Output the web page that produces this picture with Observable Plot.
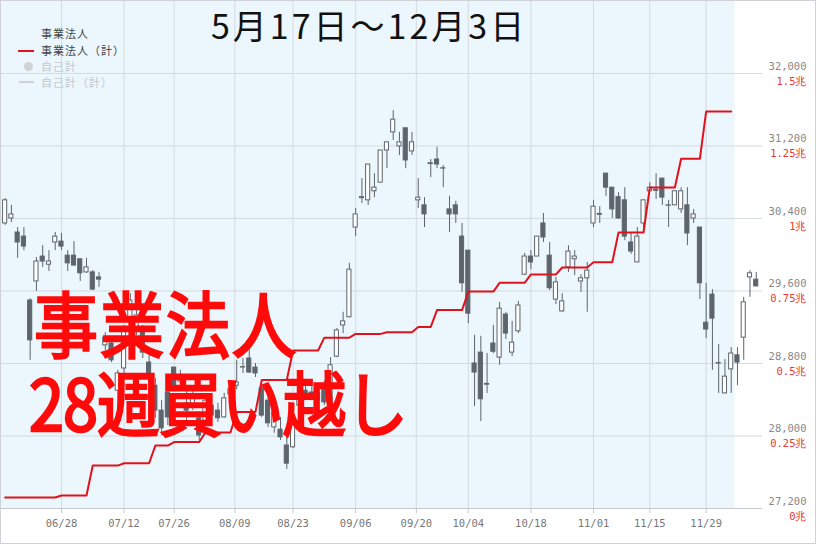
<!DOCTYPE html>
<html>
<head>
<meta charset="utf-8">
<script src="https://cdn.jsdelivr.net/npm/d3@7"></script>
<script src="https://cdn.jsdelivr.net/npm/@observablehq/plot@0.6"></script>
<style>
  html, body { margin: 0; padding: 0; background: #fff; }
  #wrap { position: relative; width: 816px; height: 544px; overflow: hidden; background: #fff; }
  #wrap svg { position: absolute; left: 0; top: 0; display: block; }
  .ov { position: absolute; white-space: nowrap; line-height: 1; }
  #title { left: 211px; top: 8px; font-family: "Noto Sans CJK JP"; font-size: 34px; color: #111; letter-spacing: 3px; }
  .leg { position: absolute; left: 41px; font-family: "Noto Sans CJK JP"; font-size: 11px; letter-spacing: 1px; line-height: 16px; color: #444; white-space: nowrap; }
  #big { position: absolute; left: 29px; top: 280px; white-space: pre; font-family: "Noto Sans CJK JP"; font-weight: normal;
         font-size: 63px; letter-spacing: -1px; line-height: 72px; text-indent: 5px; color: #ff0a0a;
         -webkit-text-stroke: 2.2px #ff0a0a; transform-origin: 0 0; transform: scaleY(1.12); }
  #big::first-line { font-size: 64px; letter-spacing: 2px; }
  #frame { position: absolute; left: 0; top: 0; width: 814px; height: 542px; border: 1px solid #cfd3d7; pointer-events: none; }
</style>
</head>
<body>
<div id="wrap"></div>
<script>
// ---- data (2021 trading days) ----
const dates = [
  "06/15","06/16","06/17","06/18","06/21","06/22","06/23","06/24","06/25",
  "06/28","06/29","06/30","07/01","07/02",
  "07/05","07/06","07/07","07/08","07/09",
  "07/12","07/13","07/14","07/15","07/16",
  "07/19","07/20","07/21",
  "07/26","07/27","07/28","07/29","07/30",
  "08/02","08/03","08/04","08/05","08/06",
  "08/10","08/11","08/12","08/13",
  "08/16","08/17","08/18","08/19","08/20",
  "08/23","08/24","08/25","08/26","08/27",
  "08/30","08/31","09/01","09/02","09/03",
  "09/06","09/07","09/08","09/09","09/10",
  "09/13","09/14","09/15","09/16","09/17",
  "09/21","09/22","09/24",
  "09/27","09/28","09/29","09/30","10/01",
  "10/04","10/05","10/06","10/07","10/08",
  "10/11","10/12","10/13","10/14","10/15",
  "10/18","10/19","10/20","10/21","10/22",
  "10/25","10/26","10/27","10/28","10/29",
  "11/01","11/02","11/04","11/05",
  "11/08","11/09","11/10","11/11","11/12",
  "11/15","11/16","11/17","11/18","11/19",
  "11/22","11/24","11/25","11/26",
  "11/29","11/30","12/01","12/02","12/03",
  "12/06","12/07","12/08","12/09"
];
const open = [
  30345,30400,30245,30200,29495,29705,29980,29890,30135,
  30145,29990,29990,29950,29805,
  29805,29750,29000,29020,28500,
  28745,29295,29195,29165,28810,
  28555,28280,28480,
  28755,28600,28360,28335,28195,
  28170,28335,28280,28205,28460,
  28555,28755,28855,28755,
  28525,28390,28095,28070,27895,
  27875,28335,28500,28480,28390,
  28535,28390,28875,29220,29310,
  30300,30625,30600,30700,30795,
  31150,31350,31195,31395,31140,
  30600,30545,31000,
  31050,30950,30500,30545,30200,
  30045,28800,28920,28565,29020,
  28865,29340,28920,29155,29780,
  29980,29980,30345,29990,29505,
  29375,29860,29950,29705,29740,
  30345,30440,30895,30740,
  30635,30600,30135,29915,30345,
  30700,30705,30840,30540,30545,
  30500,30545,30400,30300,
  29250,29560,28800,28470,28735,
  28890,29085,29750,29725
];
const high = [
  30620,30545,30300,30300,29515,29970,30100,30045,30245,
  30235,30045,30145,29950,29960,
  29825,29805,29140,29085,28725,
  29220,29570,29440,29220,28890,
  28635,28390,28590,
  28755,28725,28500,28500,28260,
  28445,28415,28360,28470,28610,
  28835,28855,28965,28800,
  28555,28435,28335,28205,28030,
  28250,28515,28590,28555,28525,
  28610,28865,29185,29365,29905,
  30510,30840,30995,30895,31150,
  31240,31590,31350,31395,31350,
  30840,30630,31050,
  31185,30985,30645,30590,30345,
  30045,29110,29100,28910,29220,
  29475,29365,29265,29485,30015,
  30045,30200,30455,30135,29750,
  29570,30100,30045,29780,29915,
  30600,30530,30895,30740,
  30685,30740,30235,30300,30600,
  30795,30895,30840,30600,30700,
  30740,30740,30500,30300,
  29685,29615,29010,28845,28975,
  28975,29530,29825,29805
];
const low = [
  30325,30355,29960,30045,28835,29595,29860,29815,30045,
  30045,29815,29880,29705,29795,
  29605,29640,28945,28810,28115,
  28670,29250,29110,28855,28590,
  28195,28005,28115,
  28500,28555,28150,28280,27950,
  28115,28170,28150,28195,28425,
  28510,28690,28690,28645,
  28205,28095,28030,27950,27630,
  27860,28305,28390,28390,28335,
  28335,28370,28865,29130,29305,
  30200,30565,30545,30630,30795,
  30950,31260,31095,30950,31095,
  30510,30300,30850,
  30950,30740,30245,30345,29585,
  29240,28325,28160,28470,28910,
  28780,29065,28875,29130,29770,
  29835,29980,30135,29605,29450,
  29365,29805,29770,29585,29365,
  30300,30345,30645,30400,
  30390,30155,30005,29915,30290,
  30700,30610,30545,30300,30545,
  30455,30100,30345,29505,
  29075,28725,28470,28470,28470,
  28555,28835,29530,29650
];
const close = [
  30600,30445,30135,30090,29055,29925,29925,29925,30200,
  30090,29905,29880,29795,29860,
  29615,29725,29085,28835,28690,
  29165,29495,29330,28920,28690,
  28280,28085,28205,
  28525,28645,28280,28445,28005,
  28390,28225,28195,28415,28515,
  28590,28760,28700,28690,
  28225,28140,28260,27985,27695,
  28180,28435,28425,28445,28470,
  28370,28780,29165,29265,29835,
  30445,30635,30995,30740,31150,
  31240,31490,31240,31040,31240,
  30630,30445,31010,
  30995,30955,30445,30445,29685,
  29350,28700,28405,28575,28930,
  29405,29130,29030,29440,29980,
  29915,30200,30190,29630,29695,
  29485,30035,29980,29740,29825,
  30530,30450,30740,30500,
  30400,30200,30035,30200,30600,
  30740,30715,30630,30545,30700,
  30700,30235,30445,29685,
  29175,29295,28805,28655,28910,
  28810,29475,29795,29650
];
// 事業法人 cumulative net buying (trillion yen), by week start
const weekStarts = ["06/14","06/21","06/28","07/05","07/12","07/19","07/26","08/02","08/09","08/16","08/23","08/30",
  "09/06","09/13","09/20","09/27","10/04","10/11","10/18","10/25","11/01","11/08","11/15","11/22","11/29"];
const weeklyCumTrillion = [0.038,0.038,0.045,0.148,0.156,0.217,0.229,0.262,0.333,0.443,0.545,0.589,
  0.602,0.608,0.626,0.684,0.748,0.778,0.807,0.831,0.849,0.952,1.107,1.206,1.369];
const lineEnd = "12/03";
const xTickLabels = ["06/28","07/12","07/26","08/09","08/23","09/06","09/20","10/04","10/18","11/01","11/15","11/29"];
const priceTicks = [27200, 28000, 28800, 29600, 30400, 31200, 32000];
const trillionLabels = ["0兆","0.25兆","0.5兆","0.75兆","1兆","1.25兆","1.5兆"];

// ---- derived tables ----
const candles = dates.map((d, i) => ({i, date: d, o: open[i], h: high[i], l: low[i], c: close[i]}));
const redLine = dates.filter(d => d <= lineEnd).map(d => {
  let w = 0;
  weekStarts.forEach((s, k) => { if (s <= d) w = k; });
  return {i: dates.indexOf(d), t: weeklyCumTrillion[w]};
});
const tickPos = xTickLabels.map(l => {
  const k = dates.indexOf(l);
  if (k >= 0) return k;
  return dates.findIndex(d => d > l) - 0.3;
});
const labelAt = new Map(tickPos.map((p, k) => [p, xTickLabels[k]]));
const trillionAt = new Map(priceTicks.map((p, k) => [p, trillionLabels[k]]));
const toPrice = t => 27200 + t * (32000 - 27200) / 1.5;

const dark = "#5d646c";
const red = "#e0131c";
const xMin = -0.74, xMax = 121;
const yMax = 32805;

const chart = Plot.plot({
  width: 816, height: 544,
  marginLeft: 0, marginRight: 54, marginTop: 0, marginBottom: 36,
  style: {background: "transparent", fontFamily: "DejaVu Sans Mono", fontSize: "10.5px", color: "#777"},
  x: {type: "linear", domain: [xMin, xMax], label: null},
  y: {domain: [27200, yMax], label: null},
  marks: [
    Plot.rect([{a: xMin, b: dates.indexOf(lineEnd) + 0.6}], {x1: "a", x2: "b", y1: 27200, y2: yMax, fill: "#ecf6fd"}),
    Plot.gridY(priceTicks, {stroke: "#d3dae1", strokeOpacity: 1}),
    Plot.gridX(tickPos, {stroke: "#d3dae1", strokeOpacity: 1}),
    Plot.ruleY([27200], {stroke: "#c4c9ce"}),
    Plot.axisX(tickPos, {tickSize: 5, tickPadding: 6, stroke: "#c4c9ce", fill: "#777", label: null,
      tickFormat: d => labelAt.get(d), fontSize: 10.5}),
    Plot.ruleX(candles, {x: "i", y1: "l", y2: "h", stroke: dark, strokeWidth: 1}),
    Plot.rect(candles, {x1: d => d.i - 0.33, x2: d => d.i + 0.33, y1: "o", y2: "c",
      fill: d => d.c >= d.o ? "#ffffff" : dark, stroke: dark, strokeWidth: 1}),
    Plot.line(redLine, {x: "i", y: d => toPrice(d.t), stroke: red, strokeWidth: 2}),
    Plot.axisY(priceTicks, {anchor: "right", tickSize: 0, tickPadding: 0, dx: 44, dy: -7, textAnchor: "end",
      fill: "#888", label: null, tickFormat: d3.format(","), fontSize: 10.5}),
    Plot.axisY(priceTicks, {anchor: "right", tickSize: 0, tickPadding: 0, dx: 44, dy: 8, textAnchor: "end",
      fill: "#e53935", label: null, tickFormat: d => trillionAt.get(d), fontSize: 10.5})
  ]
});

const wrap = document.getElementById("wrap");
wrap.appendChild(chart);
wrap.insertAdjacentHTML("beforeend", `
  <div id="title" class="ov">5月17日～12月3日</div>
  <div class="leg" style="top:25px">事業法人</div>
  <div style="position:absolute;left:18px;top:50px;width:16px;height:2px;background:${red}"></div>
  <div class="leg" style="top:42px">事業法人（計）</div>
  <div style="position:absolute;left:23.5px;top:62px;width:9px;height:9px;border-radius:50%;background:#cfd3d7"></div>
  <div class="leg" style="top:58px;color:#c3c8cd">自己計</div>
  <div style="position:absolute;left:19px;top:81px;width:15px;height:2px;background:#cfd3d7"></div>
  <div class="leg" style="top:74px;color:#c3c8cd">自己計（計）</div>
  <div id="big">事業法人
28週買い越し</div>
  <div id="frame"></div>
`);
</script>
</body>
</html>
